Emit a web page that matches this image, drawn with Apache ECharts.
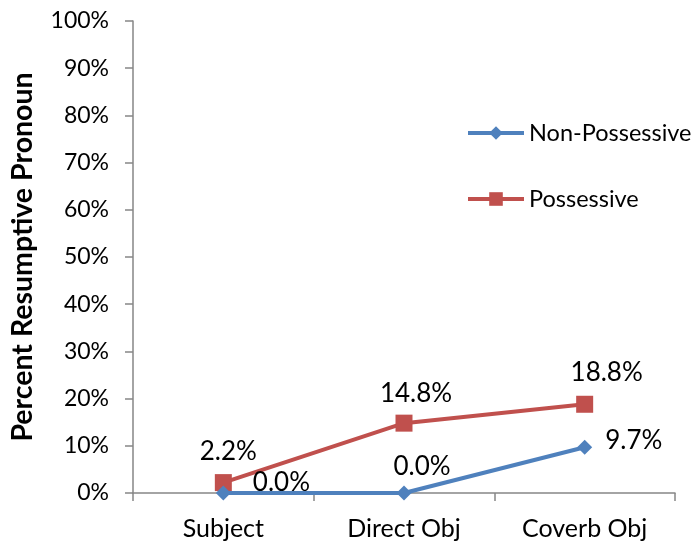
<!DOCTYPE html>
<html>
<head>
<meta charset="utf-8">
<script src="https://cdn.jsdelivr.net/npm/echarts@6/dist/echarts.min.js"></script>
<style>
  html, body { margin: 0; padding: 0; background: #fff; }
  #chart { width: 697px; height: 548px; }
</style>
</head>
<body>
<div id="chart"></div>
<script>
var categories = ['Subject', 'Direct Obj', 'Coverb Obj'];
var nonPossessive = [0.0, 0.0, 9.7];
var possessive = [2.2, 14.8, 18.8];
var yTicks = [0, 10, 20, 30, 40, 50, 60, 70, 80, 90, 100];

var FONT = 'Lato';
var myChart = echarts.init(document.getElementById('chart'));

// label placement per point, roughly as in the original
var nonPosLabels = [
    {position: 'right', distance: 22, offset: [0, -10]},
    {position: 'top', distance: 6, offset: [18, 0]},
    {position: 'right', distance: 13, offset: [0, -7]}
];
var posLabels = [
    {position: 'top', distance: 10, offset: [5, 0]},
    {position: 'top', distance: 8, offset: [12, 0]},
    {position: 'top', distance: 10, offset: [22, 0]}
];

function buildData(values, labels) {
    return values.map(function (v, i) {
        return {value: v, label: labels[i]};
    });
}

var option = {
    backgroundColor: '#FFFFFF',
    animation: false,
    textStyle: {fontFamily: FONT},
    grid: {left: 132, right: 22, top: 21, bottom: 55},
    legend: {
        orient: 'vertical',
        left: 461,
        top: 116,
        itemGap: 42,
        itemWidth: 56,
        itemHeight: 17,
        textStyle: {fontFamily: FONT, fontSize: 23.5, color: '#000'},
        data: [
            {name: 'Non-Possessive', lineStyle: {width: 4}},
            {name: 'Possessive', lineStyle: {width: 4}}
        ]
    },
    xAxis: {
        type: 'category',
        data: categories,
        boundaryGap: true,
        axisLine: {lineStyle: {color: '#868686', width: 1.5}},
        axisTick: {show: true, length: 8, lineStyle: {color: '#868686', width: 1.5}},
        axisLabel: {color: '#000', fontSize: 25, fontFamily: FONT, margin: 23}
    },
    yAxis: {
        type: 'value',
        min: yTicks[0],
        max: yTicks[yTicks.length - 1],
        interval: 10,
        name: 'Percent Resumptive Pronoun',
        nameLocation: 'middle',
        nameGap: 96,
        nameTextStyle: {fontFamily: FONT, fontSize: 28.5, fontWeight: 'bold', color: '#000'},
        axisLine: {show: true, lineStyle: {color: '#868686', width: 1.5}},
        axisTick: {show: true, length: 8, lineStyle: {color: '#868686', width: 1.5}},
        splitLine: {show: false},
        axisLabel: {
            color: '#000', fontSize: 23, fontFamily: FONT, margin: 24,
            formatter: function (v) { return v + '%'; }
        }
    },
    series: [{
        name: 'Non-Possessive',
        type: 'line',
        data: buildData(nonPossessive, nonPosLabels),
        symbol: 'diamond',
        symbolSize: 15,
        itemStyle: {color: '#4F81BD'},
        lineStyle: {color: '#4F81BD', width: 4},
        label: {
            show: true, fontSize: 26, fontFamily: FONT, color: '#000',
            formatter: function (p) { return p.value.toFixed(1) + '%'; }
        },
        z: 3
    }, {
        name: 'Possessive',
        type: 'line',
        data: buildData(possessive, posLabels),
        symbol: 'rect',
        symbolSize: 17,
        itemStyle: {color: '#C0504D'},
        lineStyle: {color: '#C0504D', width: 4},
        label: {
            show: true, fontSize: 26, fontFamily: FONT, color: '#000',
            formatter: function (p) { return p.value.toFixed(1) + '%'; }
        },
        z: 2
    }]
};
myChart.setOption(option);
</script>
</body>
</html>
